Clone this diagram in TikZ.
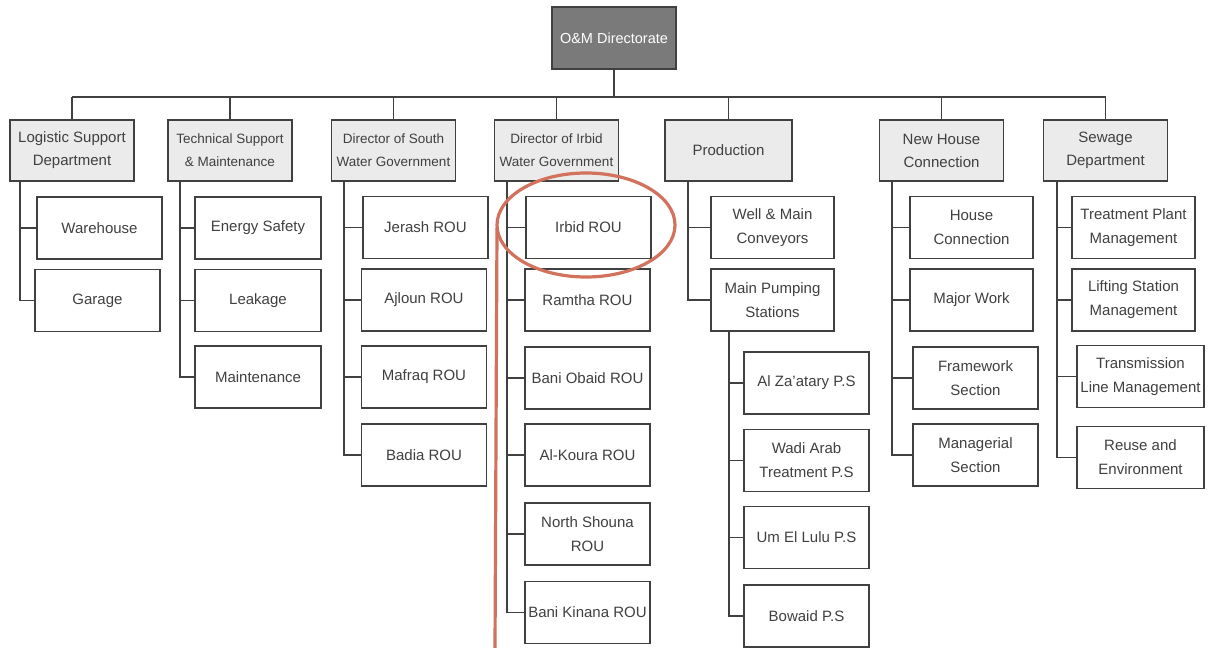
\documentclass[tikz,border=0pt]{standalone}
\usepackage{fontspec}
\setmainfont{Liberation Sans}
\definecolor{redmark}{HTML}{D2715C}
\begin{document}
\begin{tikzpicture}[x=1pt,y=-1pt,
  every node/.style={text=black!75},
  topbox/.style={draw=black!75,line width=1.3pt,fill=black!52,text=white,minimum width=124pt,minimum height=62pt,inner sep=1pt,font=\fontsize{14.5}{16}\selectfont},
  headbox/.style={draw=black!75,line width=1.3pt,fill=black!8,minimum width=124pt,minimum height=61pt,align=center,inner sep=1pt,font=\fontsize{15}{23}\selectfont},
  headsmall/.style={headbox,font=\fontsize{13.5}{23}\selectfont},
  subbox/.style={draw=black!75,line width=1.3pt,fill=white,minimum width=125pt,minimum height=62pt,align=center,inner sep=1pt,font=\fontsize{15}{24}\selectfont},
  link/.style={draw=black!75,line width=1.3pt},
  redline/.style={draw=redmark,line width=3.2pt}]
\useasboundingbox[fill=white] (0,0) rectangle (1211,648);
% top
\node[topbox] (top) at (614,38) {O\&M Directorate};
% headers
\node[headbox]  (h1) at (72,150.5)   {Logistic Support\\Department};
\node[headsmall] (h2) at (230,150.5) {Technical Support\\\& Maintenance};
\node[headsmall] (h3) at (393.5,150.5) {Director of South\\Water Government};
\node[headsmall] (h4) at (556.5,150.5) {Director of Irbid\\Water Government};
\node[headbox,minimum width=127pt] (h5) at (728.5,150.5) {Production};
\node[headbox]  (h6) at (941.5,150.5) {New House\\Connection};
\node[headbox]  (h7) at (1105.5,150.5) {Sewage\\Department};
% bus
\coordinate (bus) at (0,97);
\draw[link] (top.south) -- (top.south |- bus);
\draw[link] (h1.north |- bus) -- (h7.north |- bus);
\foreach \h in {h1,h2,h3,h4,h5,h6,h7} \draw[link] (\h.north) -- (\h.north |- bus);
% column 1
\node[subbox] (c11) at (99.5,228) {Warehouse};
\node[subbox] (c12) at (97.5,300.5) {Garage};
\coordinate (s1) at (20,181);
\draw[link] (s1) |- (c11.west); \draw[link] (s1) |- (c12.west);
% column 2
\node[subbox,minimum width=126pt] (c21) at (258,228) {Energy Safety};
\node[subbox,minimum width=126pt] (c22) at (258,300.5) {Leakage};
\node[subbox,minimum width=126pt] (c23) at (258,377) {Maintenance};
\coordinate (s2) at (180,181);
\foreach \c in {c21,c22,c23} \draw[link] (s2) |- (\c.west);
% column 3
\node[subbox] (c31) at (425.5,227.5) {Jerash ROU};
\node[subbox] (c32) at (424,300) {Ajloun ROU};
\node[subbox] (c33) at (424,377) {Mafraq ROU};
\node[subbox] (c34) at (424,455) {Badia ROU};
\coordinate (s3) at (344,181);
\foreach \c in {c31,c32,c33,c34} \draw[link] (s3) |- (\c.west);
% column 4
\node[subbox] (c41) at (588.5,227.5) {Irbid ROU};
\node[subbox] (c42) at (587.5,300) {Ramtha ROU};
\node[subbox] (c43) at (587.5,378) {Bani Obaid ROU};
\node[subbox] (c44) at (587.5,455) {Al-Koura ROU};
\node[subbox] (c45) at (587.5,534) {North Shouna\\ROU};
\node[subbox] (c46) at (587.5,612.5) {Bani Kinana ROU};
\coordinate (s4) at (507,181);
\foreach \c in {c41,c42,c43,c44,c45,c46} \draw[link] (s4) |- (\c.west);
% column 5
\node[subbox,minimum width=123pt] (c51) at (772.5,227.5) {Well \& Main\\Conveyors};
\node[subbox,minimum width=123pt] (c52) at (772.5,300) {Main Pumping\\Stations};
\coordinate (s5) at (688,181);
\draw[link] (s5) |- (c51.west); \draw[link] (s5) |- (c52.west);
\node[subbox] (c53) at (806.5,383) {Al Za'atary P.S};
\node[subbox] (c54) at (806.5,460.5) {Wadi Arab\\Treatment P.S};
\node[subbox] (c55) at (806.5,537.5) {Um El Lulu P.S};
\node[subbox] (c56) at (806.5,616) {Bowaid P.S};
\coordinate (s5b) at (729,331);
\foreach \c in {c53,c54,c55,c56} \draw[link] (s5b) |- (\c.west);
% column 6
\node[subbox,minimum width=123pt] (c61) at (971.5,227.5) {House\\Connection};
\node[subbox,minimum width=123pt] (c62) at (971.5,300) {Major Work};
\node[subbox] (c63) at (975.5,378) {Framework\\Section};
\node[subbox] (c64) at (975.5,455) {Managerial\\Section};
\coordinate (s6) at (892,181);
\foreach \c in {c61,c62,c63,c64} \draw[link] (s6) |- (\c.west);
% column 7
\node[subbox,minimum width=123pt] (c71) at (1133.5,227.5) {Treatment Plant\\Management};
\node[subbox,minimum width=123pt] (c72) at (1133.5,300) {Lifting Station\\Management};
\node[subbox,minimum width=127pt] (c73) at (1140.5,376.5) {Transmission\\Line Management};
\node[subbox,minimum width=127pt] (c74) at (1140.5,457.5) {Reuse and\\Environment};
\coordinate (s7) at (1057,181);
\foreach \c in {c71,c72,c73,c74} \draw[link] (s7) |- (\c.west);
% red annotation
\draw[redline] (586,225) ellipse [x radius=89, y radius=52];
\coordinate (redtop) at (497,228);
\coordinate (redbot) at (495,648);
\draw[redline] (redtop) -- (redbot);
\end{tikzpicture}
\end{document}
